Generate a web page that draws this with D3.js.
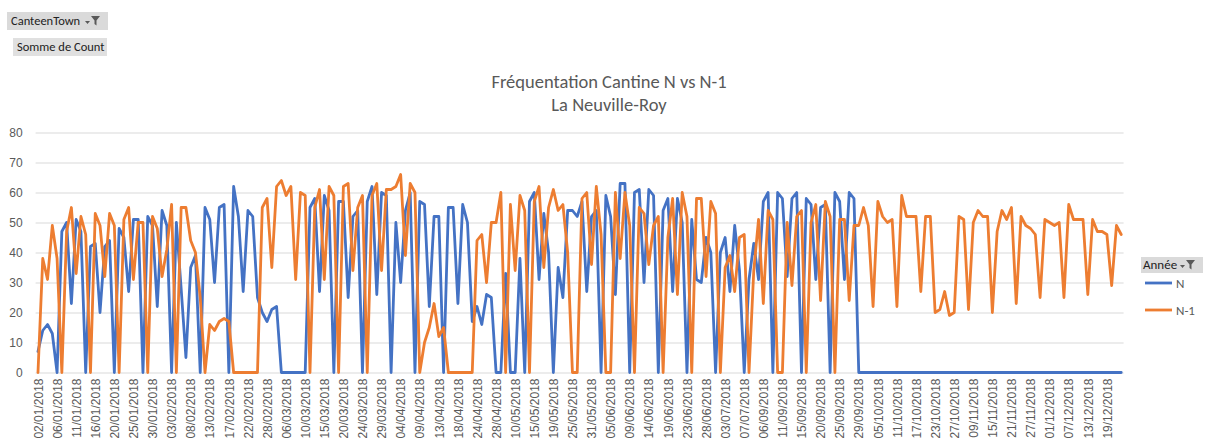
<!DOCTYPE html>
<html>
<head>
<meta charset="utf-8">
<script src="https://cdn.jsdelivr.net/npm/d3@7"></script>
<style>
  body { margin: 0; background: #fff; }
  svg { font-family: Calibri, Carlito, Lato, "Open Sans", sans-serif; }
</style>
</head>
<body>
<div id="chart"></div>
<script>
// days present in the pivot (year 2018)
const days = [
  "02/01","03/01","04/01","05/01","06/01","08/01","09/01","10/01","11/01","12/01","13/01","15/01",
  "16/01","17/01","18/01","19/01","20/01","22/01","23/01","24/01","25/01","26/01","27/01","29/01",
  "30/01","31/01","01/02","02/02","03/02","05/02","06/02","07/02","08/02","09/02","10/02","12/02",
  "13/02","14/02","15/02","16/02","17/02","19/02","20/02","21/02","22/02","23/02","26/02","27/02",
  "28/02","01/03","02/03","05/03","06/03","07/03","08/03","09/03","10/03","12/03","13/03","14/03",
  "15/03","16/03","17/03","19/03","20/03","21/03","22/03","23/03","24/03","26/03","27/03","28/03",
  "29/03","30/03","31/03","03/04","04/04","05/04","06/04","07/04","09/04","10/04","11/04","12/04",
  "13/04","14/04","16/04","17/04","18/04","19/04","20/04","23/04","24/04","25/04","26/04","27/04",
  "28/04","30/04","03/05","07/05","10/05","11/05","12/05","14/05","15/05","16/05","17/05","18/05",
  "19/05","22/05","23/05","24/05","25/05","28/05","29/05","30/05","31/05","01/06","02/06","04/06",
  "05/06","06/06","07/06","08/06","09/06","11/06","12/06","13/06","14/06","15/06","16/06","18/06",
  "19/06","20/06","21/06","22/06","23/06","25/06","26/06","27/06","28/06","29/06","30/06","02/07",
  "03/07","04/07","05/07","06/07","07/07","03/09","04/09","05/09","06/09","07/09","08/09","10/09",
  "11/09","12/09","13/09","14/09","15/09","17/09","18/09","19/09","20/09","21/09","22/09","24/09",
  "25/09","26/09","27/09","28/09","29/09","01/10","02/10","04/10","05/10","08/10","09/10","10/10",
  "11/10","12/10","15/10","16/10","17/10","18/10","19/10","22/10","23/10","24/10","25/10","26/10",
  "27/10","05/11","06/11","08/11","09/11","12/11","13/11","14/11","15/11","16/11","19/11","20/11",
  "21/11","22/11","23/11","26/11","27/11","28/11","29/11","30/11","01/12","03/12","04/12","06/12",
  "07/12","10/12","11/12","12/12","13/12","14/12","17/12","18/12","19/12","20/12","21/12","22/12"
];
const categories = days.map(d => d + "/2018");

const countN = [
  7,14,16,13,0,47,50,23,51,47,0,42,43,20,42,44,0,48,45,27,51,51,0,52,49,22,54,49,0,50,28,5,35,39,0,55,51,30,
  55,56,0,62,52,27,54,52,25,20,17,21,22,0,0,0,0,0,0,55,58,27,59,54,0,57,57,25,52,54,0,57,62,26,60,59,0,
  50,30,54,60,0,57,56,22,52,52,0,55,55,23,56,50,17,22,16,26,25,0,0,33,0,0,38,0,57,60,31,53,40,0,35,25,54,54,
  52,57,27,52,54,0,59,52,26,63,63,0,60,61,30,61,59,0,54,58,27,58,50,0,51,31,30,45,40,0,40,45,27,49,34,0,31,43,
  31,57,60,0,60,58,32,58,60,0,58,56,31,55,56,0,60,57,31,60,58,
  0,0,0,0,0,0,0,0,0,0,0,0,0,0,0,0,0,0,0,0,0,0,0,0,0,0,0,0,
  0,0,0,0,0,0,0,0,0,0,0,0,0,0,0,0,0,0,0,0,0,0,0,0,0,0,0,0
];

const countN1 = [
  0,38,31,49,38,0,47,55,33,52,46,0,53,49,32,53,49,0,51,55,31,50,50,0,52,48,32,41,56,0,55,55,44,40,25,0,16,14,
  17,18,17,0,0,0,0,0,0,55,58,35,62,64,59,62,31,60,59,0,55,61,31,62,59,0,62,63,34,55,59,0,59,63,34,61,61,
  62,66,39,63,60,0,10,15,23,12,15,0,0,0,0,0,0,44,46,30,50,50,60,0,56,34,59,54,0,57,62,35,55,61,54,56,40,0,
  0,58,60,36,62,46,0,0,60,38,60,49,0,55,53,36,49,52,0,45,58,26,60,52,0,58,58,32,57,53,0,35,39,27,45,46,0,34,
  51,23,54,51,0,0,50,29,52,54,0,50,56,24,57,52,0,51,51,24,49,49,55,49,22,57,52,50,51,22,59,52,52,52,27,52,52,
  20,21,27,19,20,52,51,21,50,54,52,52,20,47,54,51,55,23,52,49,48,46,25,51,50,49,50,25,56,51,51,51,26,51,47,47,46,29,49,46
];

const yTicks = [0, 10, 20, 30, 40, 50, 60, 70, 80];
const seriesNames = ["N", "N-1"];
const seriesColors = ["#4472C4", "#ED7D31"];
const titleLines = ["Fréquentation Cantine N vs N-1", "La Neuville-Roy"];

const width = 1213, height = 447;
const plotLeft = 35.6, plotRight = 1123.6, plotTop = 132.5, plotBottom = 372.5;

const svg = d3.select("#chart").append("svg")
  .attr("width", width)
  .attr("height", height);

const x = d3.scalePoint()
  .domain(categories)
  .range([plotLeft, plotRight])
  .padding(0.5);

const y = d3.scaleLinear()
  .domain([0, 80])
  .range([plotBottom, plotTop]);

// gridlines + y labels
const yAxis = svg.append("g")
  .attr("transform", `translate(${plotLeft},0)`)
  .call(d3.axisLeft(y).tickValues(yTicks).tickSize(-(plotRight - plotLeft)).tickPadding(13));
yAxis.select(".domain").remove();
yAxis.selectAll(".tick line").attr("stroke", "#d9d9d9").attr("stroke-width", 1);
yAxis.selectAll(".tick text")
  .attr("fill", "#595959")
  .style("font-size", "12px");

// x axis labels, every 4th category
const xAxis = svg.append("g")
  .attr("transform", `translate(0,${plotBottom})`)
  .call(d3.axisBottom(x).tickValues(categories.filter((d, i) => i % 4 === 0)).tickSize(0));
xAxis.select(".domain").remove();
xAxis.selectAll(".tick text")
  .attr("fill", "#595959")
  .style("font-size", "12px")
  .attr("text-anchor", "end")
  .attr("transform", "rotate(-90)")
  .attr("x", -6)
  .attr("y", 0)
  .attr("dy", "0.35em");

// lines
const line = d3.line()
  .x((d, i) => x(categories[i]))
  .y(d => y(d));

[countN, countN1].forEach((vals, k) => {
  svg.append("path")
    .datum(vals)
    .attr("fill", "none")
    .attr("stroke", seriesColors[k])
    .attr("stroke-width", 2.8)
    .attr("stroke-linejoin", "round")
    .attr("stroke-linecap", "round")
    .attr("d", line);
});

// title
svg.append("g").selectAll("text")
  .data(titleLines)
  .enter().append("text")
  .attr("x", 609)
  .attr("y", (d, i) => 88 + i * 23)
  .attr("text-anchor", "middle")
  .attr("fill", "#595959")
  .style("font-size", "18.5px")
  .text(d => d);

// little filter icon (dropdown arrow + funnel)
function filterIcon(g, x0, y0) {
  g.append("path")
    .attr("d", `M${x0},${y0 + 5} h5 l-2.5,3 z`)
    .attr("fill", "#595959");
  g.append("path")
    .attr("d", `M${x0 + 6},${y0} h9 l-3.5,4.5 v5 l-2,-1.5 v-3.5 z`)
    .attr("fill", "#595959");
}

// pivot field buttons
const btn1 = svg.append("g");
btn1.append("rect").attr("x", 7).attr("y", 12).attr("width", 101).attr("height", 18).attr("fill", "#dadada");
btn1.append("text").attr("x", 11).attr("y", 25).style("font-size", "12.5px")
  .attr("fill", "#222").text("CanteenTown");
filterIcon(btn1, 85, 16);

const btn2 = svg.append("g");
btn2.append("rect").attr("x", 13).attr("y", 38).attr("width", 94).attr("height", 18).attr("fill", "#e0e0e0");
btn2.append("text").attr("x", 17).attr("y", 51).style("font-size", "12.5px")
  .attr("fill", "#222").text("Somme de Count");

// legend
const legend = svg.append("g");
legend.append("rect").attr("x", 1141).attr("y", 257).attr("width", 62).attr("height", 16).attr("fill", "#dadada");
legend.append("text").attr("x", 1143).attr("y", 269).style("font-size", "13px").attr("fill", "#222").text("Année");
filterIcon(legend, 1180, 260);

const items = legend.selectAll(".item")
  .data(seriesNames)
  .enter().append("g")
  .attr("class", "item")
  .attr("transform", (d, i) => `translate(0,${283 + i * 27})`);
items.append("line")
  .attr("x1", 1145).attr("x2", 1172)
  .attr("stroke", (d, i) => seriesColors[i])
  .attr("stroke-width", 2.8);
items.append("text")
  .attr("x", 1176)
  .attr("dy", "0.35em")
  .style("font-size", "13px")
  .attr("fill", "#595959")
  .text(d => d);
</script>
</body>
</html>
